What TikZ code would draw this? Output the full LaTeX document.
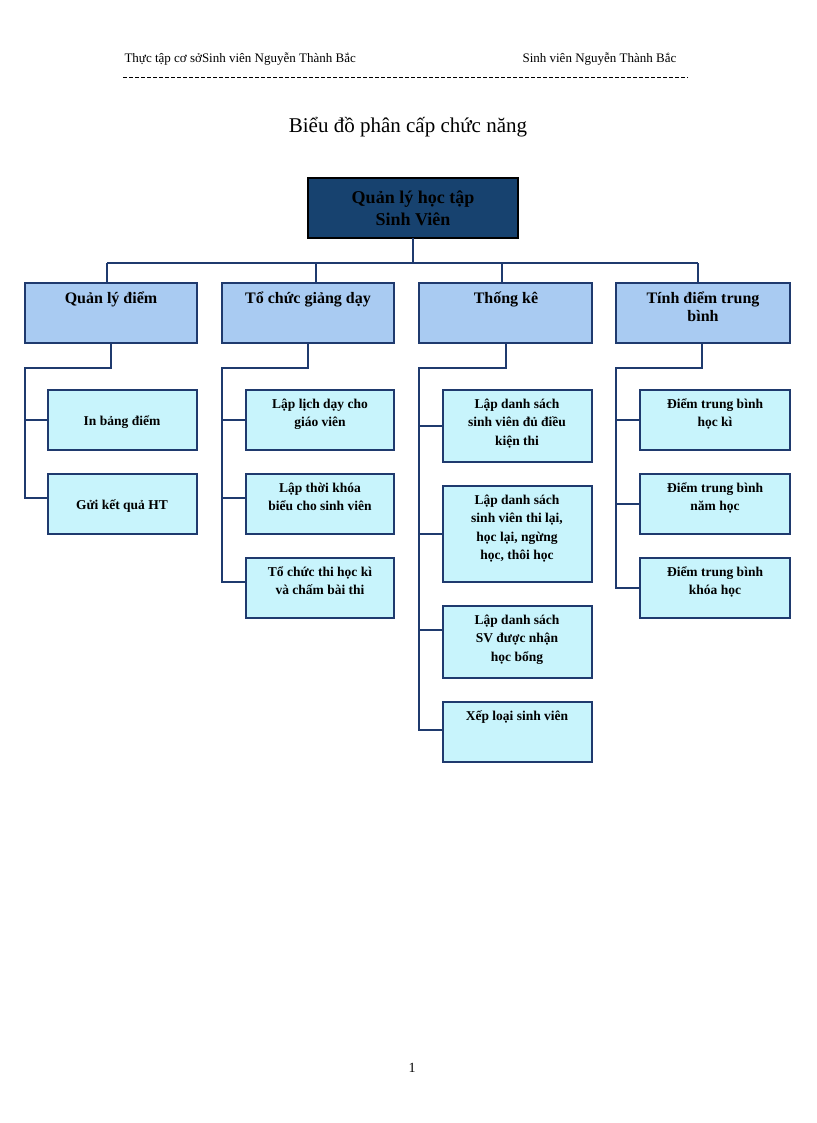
\documentclass[tikz,border=0pt]{standalone}
\usepackage{fontspec}
\setmainfont{Liberation Serif}
\begin{document}
\begin{tikzpicture}[x=1pt,y=-1pt,
  ln/.style={draw=ln,line width=1.6pt},
  top/.style={draw=black,line width=1.5pt,fill=topc},
  l1/.style={draw=ln,line width=1.5pt,fill=l1c},
  l2/.style={draw=ln,line width=1.5pt,fill=l2c},
  t1/.style={font=\bfseries\fontsize{16}{18}\selectfont,align=center,anchor=north},
  t2/.style={font=\bfseries\fontsize{13.5}{18.5}\selectfont,align=center,anchor=north},
  t2c/.style={font=\bfseries\fontsize{13.5}{18.5}\selectfont,align=center}]
\definecolor{ln}{HTML}{1F3A6E}
\definecolor{topc}{HTML}{17426F}
\definecolor{l1c}{HTML}{A9CBF2}
\definecolor{l2c}{HTML}{C8F4FC}
\useasboundingbox (0,0) rectangle (816,1123);
% header
\node[anchor=west,font=\fontsize{13}{15}\selectfont] (h1) at (121,59) {Thực tập cơ sởSinh viên Nguyễn Thành Bắc};
\node[anchor=west,font=\fontsize{13}{15}\selectfont] (h2) at (519,59) {Sinh viên Nguyễn Thành Bắc};
\draw[dash pattern=on 4pt off 2pt,line width=0.6pt] (123,77) -- (688,77);
\node[font=\fontsize{21}{24}\selectfont] (title) at (408,127) {Biểu đồ phân cấp chức năng};
\node[font=\fontsize{14}{16}\selectfont] (pg) at (412,1068) {1};
% top
\draw[top] (308,178) rectangle (518,238);
\node[font=\bfseries\fontsize{18}{22}\selectfont,align=center] (root) at (413,208) {Quản lý học tập\\Sinh Viên};
% bus
\draw[ln] (413,238) -- (413,263);
\draw[ln] (107,263) -- (698,263);
\foreach \x in {107,316,502,698} \draw[ln] (\x,263) -- (\x,283);
% level 1
\draw[l1] (25,283) rectangle (197,343);
\draw[l1] (222,283) rectangle (394,343);
\draw[l1] (419,283) rectangle (592,343);
\draw[l1] (616,283) rectangle (790,343);
\node[t1] (a) at (111,288) {Quản lý điểm};
\node[t1] (b) at (308,288) {Tổ chức giảng dạy};
\node[t1] (c) at (506,288) {Thống kê};
\node[t1] (d) at (703,288) {Tính điểm trung\\bình};
% spines
\draw[ln] (111,343) -- (111,368) -- (25,368) -- (25,498) -- (48,498);
\draw[ln] (25,420) -- (48,420);
\draw[ln] (308,343) -- (308,368) -- (222,368) -- (222,582) -- (246,582);
\draw[ln] (222,420) -- (246,420); \draw[ln] (222,498) -- (246,498);
\draw[ln] (506,343) -- (506,368) -- (419,368) -- (419,730) -- (443,730);
\draw[ln] (419,426) -- (443,426); \draw[ln] (419,534) -- (443,534); \draw[ln] (419,630) -- (443,630);
\draw[ln] (702,343) -- (702,368) -- (616,368) -- (616,588) -- (640,588);
\draw[ln] (616,420) -- (640,420); \draw[ln] (616,504) -- (640,504);
% QLD children
\draw[l2] (48,390) rectangle (197,450); \node[t2c] (a1) at (122,422) {In bảng điểm};
\draw[l2] (48,474) rectangle (197,534); \node[t2c] (a2) at (122,506) {Gửi kết quả HT};
% TCGD
\draw[l2] (246,390) rectangle (394,450); \node[t2] (b1) at (320,395) {Lập lịch dạy cho\\giáo viên};
\draw[l2] (246,474) rectangle (394,534); \node[t2] (b2) at (320,479) {Lập thời khóa\\biểu cho sinh viên};
\draw[l2] (246,558) rectangle (394,618); \node[t2] (b3) at (320,563) {Tổ chức thi học kì\\và chấm bài thi};
% TK
\draw[l2] (443,390) rectangle (592,462); \node[t2] (c1) at (517,395) {Lập danh sách\\sinh viên đủ điều\\kiện thi};
\draw[l2] (443,486) rectangle (592,582); \node[t2] (c2) at (517,491) {Lập danh sách\\sinh viên thi lại,\\học lại, ngừng\\học, thôi học};
\draw[l2] (443,606) rectangle (592,678); \node[t2] (c3) at (517,611) {Lập danh sách\\SV được nhận\\học bổng};
\draw[l2] (443,702) rectangle (592,762); \node[t2] (c4) at (517,707) {Xếp loại sinh viên};
% TDTB
\draw[l2] (640,390) rectangle (790,450); \node[t2] (d1) at (715,395) {Điểm trung bình\\học kì};
\draw[l2] (640,474) rectangle (790,534); \node[t2] (d2) at (715,479) {Điểm trung bình\\năm học};
\draw[l2] (640,558) rectangle (790,618); \node[t2] (d3) at (715,563) {Điểm trung bình\\khóa học};
\end{tikzpicture}
\end{document}
